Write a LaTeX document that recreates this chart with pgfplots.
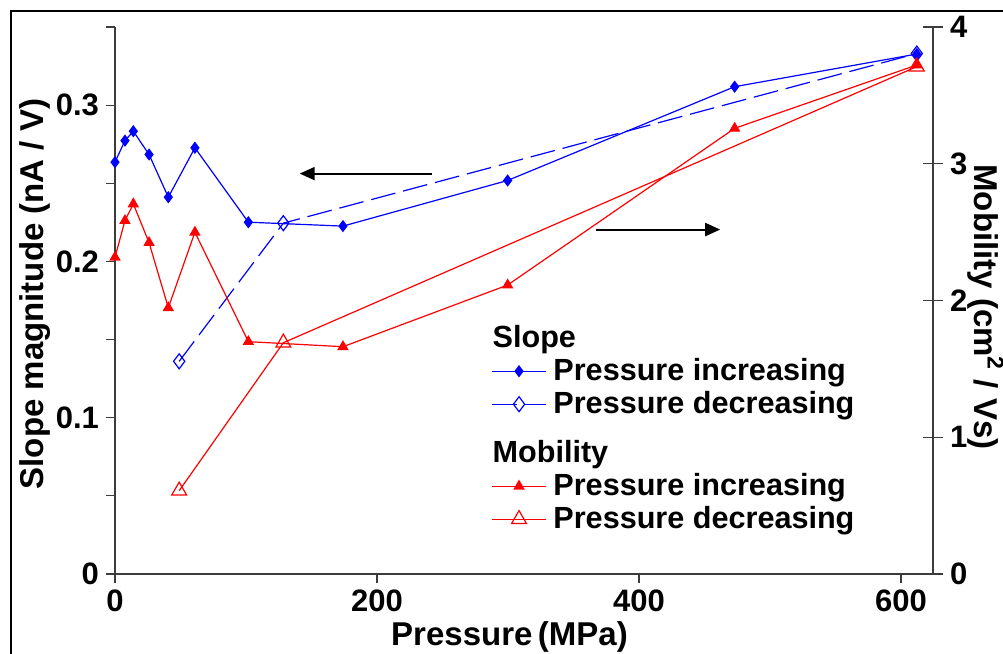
\documentclass[border=0pt]{standalone}
\usepackage{pgfplots}
\pgfplotsset{compat=1.18}
\usepackage{fontspec}
\setmainfont{Liberation Sans}
\usetikzlibrary{arrows.meta}
\definecolor{myblue}{RGB}{0,0,255}
\definecolor{myred}{RGB}{255,0,0}
\definecolor{axisgray}{RGB}{60,60,60}

\begin{document}
\begin{tikzpicture}
\useasboundingbox (0,0) rectangle (501.5pt,327pt);
\draw[line width=1pt] (5.5pt,-2pt) -- (5.5pt,321.5pt) -- (503pt,321.5pt);
\pgfplotsset{
  base/.style={
    at={(57.5pt,40pt)}, anchor=south west,
    scale only axis, width=409pt, height=273.5pt,
    xmin=0, xmax=624.4,
    axis line style={-, line width=0.6pt, axisgray},
    every tick/.style={line width=0.6pt, axisgray},
    tick label style={font=\fontsize{15.5}{18}\selectfont\bfseries},
    /pgf/number format/assume math mode=true,
    clip=false,
  },
  bi/.style={myblue, line width=0.6pt, mark=diamond*, mark size=2.6pt, mark options={solid, fill=myblue}},
  bd/.style={myblue, line width=0.6pt, dash pattern=on 12.5pt off 4pt, mark=diamond, mark size=3.75pt, mark options={solid}},
  ri/.style={myred, line width=0.6pt, mark=triangle*, mark size=2.7pt, mark options={solid, fill=myred}},
  rd/.style={myred, line width=0.6pt, mark=triangle, mark size=4.3pt, mark options={solid}},
}
\begin{axis}[base,
  axis x line=bottom, axis y line=left,
  x axis line style={-}, y axis line style={-},
  ymin=0, ymax=0.35,
  xtick={0,200,400,600},
  ytick={0,0.1,0.2,0.3},
  minor ytick={0.05,0.15,0.25,0.35},
  tick align=outside,
  major tick length=4.5pt, minor tick length=4.5pt,
  yticklabel style={/pgf/number format/fixed, /pgf/number format/precision=1},
  xlabel={Pressure\,(MPa)}, ylabel={Slope magnitude (nA / V)},
  every axis x label/.style={at={(axis description cs:0.4823,-0.1316)}, anchor=base, font=\fontsize{16.5}{19}\selectfont\bfseries},
  every axis y label/.style={at={(axis description cs:-0.088,0.512)}, rotate=90, anchor=base, font=\fontsize{16.5}{19}\selectfont\bfseries},
]
\addplot[bd] coordinates {(49,0.1361) (128.5,0.2245) (612,0.3330)};
\addplot[bi] coordinates {(0,0.2635) (7.6,0.2773) (14,0.2833) (26,0.2684) (40.7,0.2411) (61,0.2727) (101.8,0.2251) (174,0.2226) (299.7,0.2518) (473,0.3118) (612,0.3327)};
\draw[line width=1pt, -{Triangle[length=7.5pt,width=6.5pt]}] (axis cs:242,0.2562) -- (axis cs:141,0.2562);
\draw[line width=1pt, -{Triangle[length=7.5pt,width=6.5pt]}] (axis cs:367,0.2204) -- (axis cs:462,0.2204);
\end{axis}
\begin{axis}[base,
  axis x line=none, axis y line=right,
  y axis line style={-},
  ymin=0, ymax=4, ytick={0,1,2,3,4},
  tick align=center, major tick length=10pt,
  ylabel={Mobility (cm\textsuperscript{2} / Vs)},
  every axis y label/.style={at={(axis description cs:1.0513,0.488)}, rotate=-90, anchor=base, font=\fontsize{16.5}{19}\selectfont\bfseries},
  legend style={at={(0.4597,0.4607)}, anchor=north west, draw=none, fill=none, inner sep=0pt, row sep=0.7pt, column sep=3.4pt,
    font=\fontsize{15.3}{18}\selectfont\bfseries, nodes={inner sep=0pt, text height=12.5pt, text depth=3.3pt}},
  legend cell align=left,
  legend image code/.code={\draw[mark repeat=2,mark phase=2] plot coordinates {(0pt,0pt) (13.5pt,0pt) (27pt,0pt)};},
]
\addlegendimage{empty legend}
\addlegendentry{\hspace*{-30.4pt}Slope}
\addlegendimage{bi}
\addlegendentry{Pressure increasing}
\addlegendimage{bd}
\addlegendentry{Pressure decreasing}
\addlegendimage{empty legend}
\addlegendentry[text height=20.5pt]{\hspace*{-30.4pt}Mobility}
\addplot[ri] coordinates {(0,2.316) (7.6,2.584) (14,2.706) (26,2.423) (40.7,1.947) (61,2.499) (101.8,1.699) (174,1.662) (299.7,2.113) (473,3.259) (612,3.722)};
\addlegendentry{Pressure increasing}
\addplot[rd] coordinates {(49,0.609) (128.5,1.691) (612,3.710)};
\addlegendentry{Pressure decreasing}
\end{axis}
\end{tikzpicture}
\end{document}
